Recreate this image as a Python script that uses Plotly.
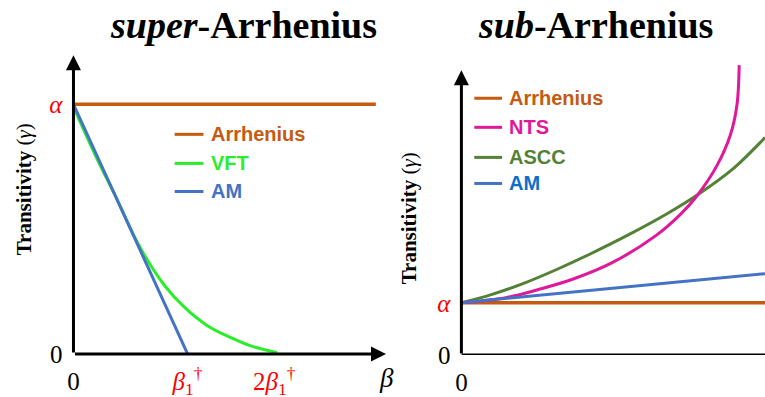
import plotly.graph_objects as go

W, H = 765, 397
FIG_H = 412  # figure height used for the page

# ---------------- data ----------------
# left panel: beta in units of beta1†, gamma in units of alpha
left_arr_x = [0, 2.65]
left_arr_y = [1, 1]
vft_x = [0, 0.22, 0.365, 0.583, 0.8, 0.974, 1.177, 1.38, 1.554, 1.785]
vft_y = [0.99, 0.768, 0.635, 0.427, 0.273, 0.186, 0.112, 0.065, 0.032, 0.005]
am_left_x = [0, 1]
am_left_y = [1, 0]
left_xtick_vals = [0, 1, 1.76]
left_xtick_text = ["0",
                   "<span style='color:#FF0000'><i>β</i><sub>1</sub><sup>†</sup></span>",
                   "<span style='color:#FF0000'>2<i>β</i><sub>1</sub><sup>†</sup></span>"]
ytick_vals = [0, 1]
ytick_text = ["0", "<span style='color:#FF0000'><i>α</i></span>"]

# right panel
right_arr_x = [0, 3.06]
right_arr_y = [1, 1]
nts_x = [0, 0.46, 0.793, 1.127, 1.51, 1.96, 2.21, 2.377, 2.577, 2.71, 2.777, 2.80]
nts_y = [1.0, 1.102, 1.263, 1.456, 1.76, 2.288, 2.70, 3.058, 3.635, 4.212, 4.788, 5.558]
ascc_x = [0, 0.293, 0.627, 0.96, 1.293, 1.677, 2.077, 2.377, 2.743, 3.027, 3.06]
ascc_y = [1.0, 1.152, 1.372, 1.638, 1.931, 2.296, 2.712, 3.066, 3.578, 4.103, 4.17]
am_right_x = [0, 3.06]
am_right_y = [1, 1.558]
right_xtick_vals = [0]
right_xtick_text = ["0"]

# ---------------- style ----------------
C_ARR = "#C55A11"
C_VFT = "#2BEE2B"
C_AM = "#4472C4"
C_NTS = "#E0189A"
C_ASCC = "#538135"
SERIF = "Liberation Serif"
SANS = "Liberation Sans"


def X(px):
    return px / W


def Y(py):
    return 1 - py / H


fig = go.Figure()

lw = 3
fig.add_trace(go.Scatter(x=left_arr_x, y=left_arr_y, mode="lines", line=dict(color=C_ARR, width=3.5),
                         xaxis="x", yaxis="y", name="Arrhenius"))
fig.add_trace(go.Scatter(x=vft_x, y=vft_y, mode="lines", line=dict(color=C_VFT, width=lw, shape="spline", smoothing=1),
                         xaxis="x", yaxis="y", name="VFT"))
fig.add_trace(go.Scatter(x=am_left_x, y=am_left_y, mode="lines", line=dict(color=C_AM, width=lw),
                         xaxis="x", yaxis="y", name="AM"))

fig.add_trace(go.Scatter(x=right_arr_x, y=right_arr_y, mode="lines", line=dict(color=C_ARR, width=3.5),
                         xaxis="x2", yaxis="y2", name="Arrhenius"))
fig.add_trace(go.Scatter(x=ascc_x, y=ascc_y, mode="lines", line=dict(color=C_ASCC, width=lw, shape="spline", smoothing=1),
                         xaxis="x2", yaxis="y2", name="ASCC"))
fig.add_trace(go.Scatter(x=nts_x, y=nts_y, mode="lines", line=dict(color=C_NTS, width=lw, shape="spline", smoothing=1),
                         xaxis="x2", yaxis="y2", name="NTS"))
fig.add_trace(go.Scatter(x=am_right_x, y=am_right_y, mode="lines", line=dict(color=C_AM, width=lw),
                         xaxis="x2", yaxis="y2", name="AM"))

tickfont = dict(family=SERIF, size=25, color="black")
common = dict(showgrid=False, zeroline=False, showline=False, ticks="", tickfont=tickfont, fixedrange=True)

# left: x px 68 -> 400 (115 px per unit), y px 353 -> 45 (249 px per unit)
fig.update_layout(
    xaxis=dict(domain=[X(68), X(400)], range=[0, (400 - 68) / 115], anchor="y",
               tickvals=left_xtick_vals, ticktext=left_xtick_text, ticklabelstandoff=10, **common),
    yaxis=dict(domain=[Y(353), Y(45)], range=[0, (353 - 45) / 249], anchor="x",
               tickvals=ytick_vals, ticktext=ytick_text, ticklabelstandoff=10, **common),
    xaxis2=dict(domain=[X(459), 1.0], range=[0, 3.06], anchor="y2",
                tickvals=right_xtick_vals, ticktext=right_xtick_text, ticklabelstandoff=10, **common),
    yaxis2=dict(domain=[Y(354), Y(55)], range=[0, (354 - 55) / 52], anchor="x2",
                tickvals=ytick_vals, ticktext=ytick_text, ticklabelstandoff=10, **common),
)

ann = []
shapes = []
# axis arrows
arrow_style = dict(text="", showarrow=True, arrowhead=2, arrowsize=1, arrowwidth=3, arrowcolor="black",
                   standoff=0, startstandoff=0)
ann.append(dict(x=0, y=(353 - 55) / 249, ax=0, ay=0, xref="x", yref="y", axref="x", ayref="y", **arrow_style))
ann.append(dict(x=(383 - 68) / 115, y=0, ax=0, ay=0, xref="x", yref="y", axref="x", ayref="y", **arrow_style))
ann.append(dict(x=0, y=(354 - 70) / 52, ax=0, ay=0, xref="x2", yref="y2", axref="x2", ayref="y2", **arrow_style))
shapes.append(dict(type="line", xref="x2", yref="y2", x0=0, y0=0, x1=3.06, y1=0,
                   line=dict(color="black", width=3)))

# beta axis label
ann.append(dict(x=X(384), y=Y(377), xref="paper", yref="paper", text="<i>β</i>", showarrow=False,
                font=dict(family=SERIF, size=27, color="black"), xanchor="center", yanchor="middle"))

# titles
ann.append(dict(x=X(239), y=Y(25), xref="paper", yref="paper", showarrow=False,
                text="<b><i>super</i>-Arrhenius</b>", font=dict(family=SERIF, size=38, color="black"),
                xanchor="center", yanchor="middle"))
ann.append(dict(x=X(594), y=Y(25), xref="paper", yref="paper", showarrow=False,
                text="<b><i>sub</i>-Arrhenius</b>", font=dict(family=SERIF, size=38, color="black"),
                xanchor="center", yanchor="middle"))

# y axis titles
for xc, yc in [(19, 189), (406, 218)]:
    ann.append(dict(x=X(xc), y=Y(yc), xref="paper", yref="paper", showarrow=False, textangle=-90,
                    text="<b>Transitivity</b> (<i>γ</i>)", font=dict(family=SERIF, size=21, color="black"),
                    xanchor="center", yanchor="middle"))

# legends
left_leg = [("Arrhenius", C_ARR, C_ARR, 134), ("VFT", C_VFT, C_VFT, 163), ("AM", C_AM, C_AM, 191)]
for name, lc, tc, yy in left_leg:
    shapes.append(dict(type="line", xref="paper", yref="paper", x0=X(170), x1=X(199), y0=Y(yy), y1=Y(yy),
                       line=dict(color=lc, width=3)))
    ann.append(dict(x=X(205), y=Y(yy), xref="paper", yref="paper", showarrow=False, text="<b>%s</b>" % name,
                    font=dict(family=SANS, size=20, color=tc), xanchor="left", yanchor="middle"))
right_leg = [("Arrhenius", C_ARR, C_ARR, 98), ("NTS", C_NTS, C_NTS, 127),
             ("ASCC", C_ASCC, C_ASCC, 157), ("AM", C_AM, "#0F6FC6", 183)]
for name, lc, tc, yy in right_leg:
    shapes.append(dict(type="line", xref="paper", yref="paper", x0=X(472), x1=X(500), y0=Y(yy), y1=Y(yy),
                       line=dict(color=lc, width=3)))
    ann.append(dict(x=X(505), y=Y(yy), xref="paper", yref="paper", showarrow=False, text="<b>%s</b>" % name,
                    font=dict(family=SANS, size=20, color=tc), xanchor="left", yanchor="middle"))

fig.update_layout(width=W, height=FIG_H, margin=dict(l=0, r=0, t=0, b=0), showlegend=False,
                  plot_bgcolor="white", paper_bgcolor="white", annotations=ann, shapes=shapes)

fig.write_html(
    "out.html",
    config={"displayModeBar": False, "staticPlot": True},
    post_script=("document.documentElement.style.margin='0';document.documentElement.style.padding='0';"
                 "document.documentElement.style.overflow='hidden';"
                 "document.body.style.margin='0';document.body.style.padding='0';"
                 "document.body.style.overflow='hidden';"),
)
